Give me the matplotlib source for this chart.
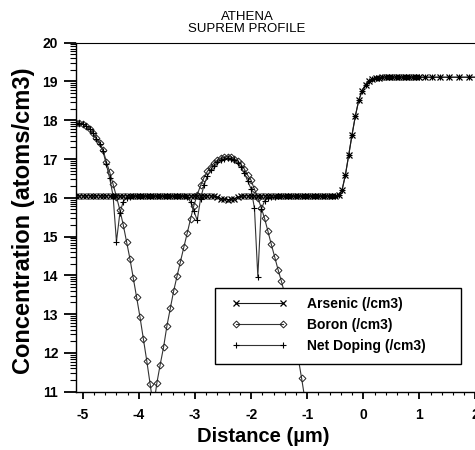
import numpy as np
import matplotlib
matplotlib.use("Agg")
import matplotlib.pyplot as plt
from matplotlib.ticker import FixedLocator, MultipleLocator
from matplotlib.patches import Rectangle

plt.rcParams['font.family'] = ['Liberation Sans', 'DejaVu Sans']
plt.rcParams['axes.unicode_minus'] = False

# depth mesh (um)
dist = [
    -5.12, -5.06, -5.00, -4.94, -4.88, -4.82, -4.76, -4.70, -4.64, -4.58,
    -4.52, -4.46, -4.40, -4.34, -4.28, -4.22, -4.16, -4.10, -4.04, -3.98,
    -3.92, -3.86, -3.80, -3.74, -3.68, -3.62, -3.56, -3.50, -3.44, -3.38,
    -3.32, -3.26, -3.20, -3.14, -3.08, -3.02, -2.96, -2.90, -2.84, -2.78,
    -2.72, -2.66, -2.60, -2.54, -2.48, -2.42, -2.36, -2.30, -2.24, -2.18,
    -2.12, -2.06, -2.00, -1.94, -1.88, -1.82, -1.76, -1.70, -1.64, -1.58,
    -1.52, -1.46, -1.40, -1.34, -1.28, -1.22, -1.16, -1.10, -1.04, -0.98,
    -0.92, -0.86, -0.80, -0.74, -0.68, -0.62, -0.56, -0.50, -0.44, -0.38,
    -0.32, -0.26, -0.20, -0.14, -0.08, -0.02, 0.04, 0.10, 0.16, 0.22,
    0.28, 0.34, 0.40, 0.46, 0.52, 0.58, 0.64, 0.70, 0.76, 0.82,
    0.88, 0.94, 1.00, 1.10, 1.22, 1.36, 1.52, 1.70, 1.88, 2.06,
    2.24,
]

# log10 concentration
arsenic = [
    16.05, 16.05, 16.05, 16.05, 16.05, 16.05, 16.05, 16.05, 16.05, 16.05,
    16.05, 16.05, 16.05, 16.05, 16.05, 16.05, 16.05, 16.05, 16.05, 16.05,
    16.05, 16.05, 16.05, 16.05, 16.05, 16.05, 16.05, 16.05, 16.05, 16.05,
    16.05, 16.05, 16.05, 16.05, 16.05, 16.05, 16.05, 16.05, 16.05, 16.05,
    16.05, 16.04, 16.01, 15.98, 15.96, 15.95, 15.96, 15.98, 16.01, 16.04,
    16.05, 16.05, 16.05, 16.05, 16.05, 16.05, 16.05, 16.05, 16.05, 16.05,
    16.05, 16.05, 16.05, 16.05, 16.05, 16.05, 16.05, 16.05, 16.05, 16.05,
    16.05, 16.05, 16.05, 16.05, 16.05, 16.05, 16.05, 16.05, 16.06, 16.19,
    16.58, 17.10, 17.63, 18.12, 18.52, 18.76, 18.92, 19.02, 19.07, 19.09,
    19.10, 19.11, 19.11, 19.11, 19.11, 19.11, 19.11, 19.11, 19.11, 19.11,
    19.11, 19.11, 19.11, 19.11, 19.11, 19.11, 19.11, 19.11, 19.11, 19.11,
    19.11,
]

boron = [
    17.92, 17.93, 17.91, 17.86, 17.78, 17.67, 17.54, 17.42, 17.24, 16.93,
    16.66, 16.35, 16.03, 15.69, 15.31, 14.87, 14.43, 13.93, 13.43, 12.92,
    12.36, 11.80, 11.20, 10.60, 11.22, 11.70, 12.15, 12.70, 13.15, 13.60,
    13.98, 14.35, 14.72, 15.08, 15.45, 15.80, 16.08, 16.32, 16.52, 16.68,
    16.80, 16.90, 16.97, 17.02, 17.05, 17.06, 17.05, 17.01, 16.95, 16.86,
    16.74, 16.58, 16.45, 16.22, 16.00, 15.75, 15.47, 15.14, 14.80, 14.48,
    14.15, 13.85, 13.52, 13.16, 12.77, 12.34, 11.87, 11.35, 10.80,
]

net_doping = [
    17.91, 17.92, 17.90, 17.85, 17.77, 17.66, 17.52, 17.39, 17.20, 16.86,
    16.50, 16.05, 14.87, 15.60, 15.90, 16.00, 16.03, 16.05, 16.05, 16.05,
    16.05, 16.05, 16.05, 16.05, 16.05, 16.05, 16.05, 16.05, 16.05, 16.05,
    16.05, 16.05, 16.05, 16.02, 15.90, 15.66, 15.42, 15.98, 16.32, 16.56,
    16.72, 16.83, 16.92, 16.98, 17.01, 17.02, 17.01, 16.97, 16.90, 16.79,
    16.64, 16.43, 16.23, 15.73, 13.97, 15.70, 15.92, 15.99, 16.02, 16.03,
    16.04, 16.05, 16.05, 16.05, 16.05, 16.05, 16.05, 16.05, 16.05, 16.05,
    16.05, 16.05, 16.05, 16.05, 16.05, 16.05, 16.05, 16.05, 16.06, 16.19,
    16.58, 17.10, 17.63, 18.12, 18.52, 18.76, 18.92, 19.02, 19.07, 19.09,
    19.10, 19.11, 19.11, 19.11, 19.11, 19.11, 19.11, 19.11, 19.11, 19.11,
    19.11, 19.11, 19.11, 19.11, 19.11, 19.11, 19.11, 19.11, 19.11, 19.11,
    19.11,
]

labels = ["Arsenic (/cm3)", "Boron (/cm3)", "Net Doping (/cm3)"]

W, H = 475, 450
fig = plt.figure(figsize=(W / 100, H / 100), dpi=100)
ax = fig.add_axes([75.5 / W, 1 - 391.7 / H, (486.7 - 75.5) / W, (391.7 - 42.7) / H])

ax.plot(dist, arsenic, color="#1a1a1a", lw=0.8, marker="x", ms=4, mew=0.9,
        mec="black", label=labels[0], zorder=3)
ax.plot(dist[:len(boron)], boron, color="#333333", lw=0.8, marker="D", ms=3.5,
        mew=0.7, mfc="none", mec="#222222", label=labels[1], zorder=2)
ax.plot(dist, net_doping, color="#333333", lw=0.8, marker="+", ms=5, mew=0.8,
        mec="black", label=labels[2], zorder=2.5)

ax.set_xlim(-5.13, 2.2)
ax.set_ylim(11, 20)

ax.set_xticks(range(-5, 3))
ax.xaxis.set_minor_locator(MultipleLocator(0.2))
ax.set_yticks(range(11, 21))
minor_y = [d + np.log10(k) for d in range(11, 20) for k in range(2, 10)]
ax.yaxis.set_minor_locator(FixedLocator(minor_y))

ax.tick_params(axis="y", which="major", direction="out", length=8.6, width=1.3, pad=4)
ax.tick_params(axis="y", which="minor", direction="out", length=4.5, width=0.8)
ax.tick_params(axis="x", which="major", direction="out", length=5, width=1.3, pad=7)
ax.tick_params(axis="x", which="minor", direction="out", length=2.5, width=0.8)
for lab in ax.get_xticklabels() + ax.get_yticklabels():
    lab.set_fontsize(10)
    lab.set_fontweight("bold")

for s in ax.spines.values():
    s.set_linewidth(1.0)
ax.spines["top"].set_linewidth(0.8)

# legend box
box = Rectangle((215 / W, 1 - 364 / H), (461 - 215) / W, (364 - 288) / H,
                transform=fig.transFigure, facecolor="white", edgecolor="black",
                lw=1.0, zorder=5, clip_on=False)
ax.add_patch(box)
leg = ax.legend(loc="upper left", bbox_to_anchor=(232 / W, 1 - 297 / H),
                bbox_transform=fig.transFigure, frameon=False, fontsize=10,
                handlelength=4.0, handletextpad=1.4, labelspacing=0.5,
                borderpad=0, borderaxespad=0, numpoints=2)
leg.set_zorder(6)
for t in leg.get_texts():
    t.set_fontweight("bold")

fig.text(247 / W, 1 - 23 / H, "ATHENA\nSUPREM PROFILE", ha="center", va="center",
         fontsize=9.5, linespacing=1.1)
fig.text(263.5 / W, 1 - 437 / H, "Distance (µm)", ha="center", va="center",
         fontsize=14.5, fontweight="bold")
fig.text(24 / W, 1 - 221 / H, "Concentration (atoms/cm3)", ha="center", va="center",
         rotation=90, fontsize=17, fontweight="bold")

fig.savefig("out.png", dpi=100)
